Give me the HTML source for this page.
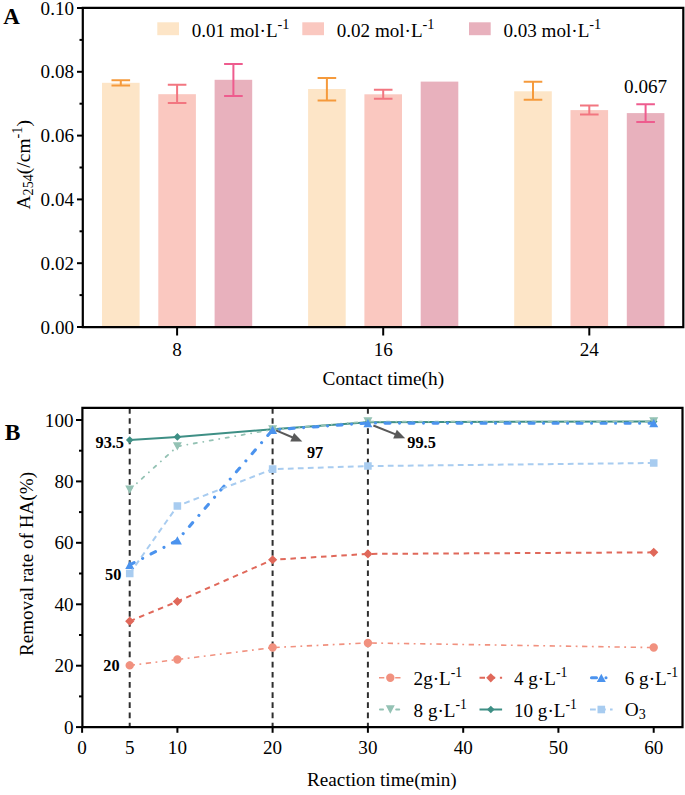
<!DOCTYPE html>
<html><head><meta charset="utf-8"><style>
html,body{margin:0;padding:0;background:#fff;}
svg{display:block;}
</style></head><body>
<svg width="685" height="795" viewBox="0 0 685 795">
<rect width="685" height="795" fill="#fff"/>
<rect x="102.0" y="82.8" width="37.6" height="244.2" fill="#FDE5C7"/>
<rect x="158.3" y="94.2" width="37.6" height="232.8" fill="#FAC8C0"/>
<rect x="214.6" y="79.8" width="37.6" height="247.2" fill="#E8B1BD"/>
<rect x="308.1" y="89.0" width="37.6" height="238.0" fill="#FDE5C7"/>
<rect x="364.4" y="94.3" width="37.6" height="232.7" fill="#FAC8C0"/>
<rect x="420.7" y="81.6" width="37.6" height="245.4" fill="#E8B1BD"/>
<rect x="514.2" y="91.3" width="37.6" height="235.7" fill="#FDE5C7"/>
<rect x="570.5" y="110.1" width="37.6" height="216.9" fill="#FAC8C0"/>
<rect x="626.8" y="113.1" width="37.6" height="213.9" fill="#E8B1BD"/>
<path d="M111.5 80.2H130.1M111.5 85.4H130.1M120.8 80.2V85.4" stroke="#F59A3C" stroke-width="2" fill="none"/>
<path d="M167.8 84.8H186.4M167.8 103.1H186.4M177.1 84.8V103.1" stroke="#F27680" stroke-width="2" fill="none"/>
<path d="M224.1 64H242.7M224.1 95.9H242.7M233.4 64V95.9" stroke="#EE5C8E" stroke-width="2" fill="none"/>
<path d="M317.6 77.9H336.2M317.6 100.5H336.2M326.9 77.9V100.5" stroke="#F59A3C" stroke-width="2" fill="none"/>
<path d="M373.9 89.8H392.5M373.9 98.7H392.5M383.2 89.8V98.7" stroke="#F27680" stroke-width="2" fill="none"/>
<path d="M523.7 81.8H542.3M523.7 99.7H542.3M533.0 81.8V99.7" stroke="#F59A3C" stroke-width="2" fill="none"/>
<path d="M580.0 105.4H598.6M580.0 114.4H598.6M589.3 105.4V114.4" stroke="#F27680" stroke-width="2" fill="none"/>
<path d="M636.3 104.2H654.9M636.3 122H654.9M645.6 104.2V122" stroke="#EE5C8E" stroke-width="2" fill="none"/>
<path d="M82.8 7.9H683.3V327.2H82.8Z" stroke="#000" stroke-width="2.2" fill="none"/>
<path d="M77 8.0H82.8" stroke="#000" stroke-width="2"/>
<path d="M79.5 39.9H82.8" stroke="#000" stroke-width="2"/>
<text x="74" y="14.5" text-anchor="end" font-size="19.1" font-family="Liberation Serif, serif">0.10</text>
<path d="M77 71.8H82.8" stroke="#000" stroke-width="2"/>
<path d="M79.5 103.7H82.8" stroke="#000" stroke-width="2"/>
<text x="74" y="78.3" text-anchor="end" font-size="19.1" font-family="Liberation Serif, serif">0.08</text>
<path d="M77 135.6H82.8" stroke="#000" stroke-width="2"/>
<path d="M79.5 167.5H82.8" stroke="#000" stroke-width="2"/>
<text x="74" y="142.1" text-anchor="end" font-size="19.1" font-family="Liberation Serif, serif">0.06</text>
<path d="M77 199.4H82.8" stroke="#000" stroke-width="2"/>
<path d="M79.5 231.3H82.8" stroke="#000" stroke-width="2"/>
<text x="74" y="205.9" text-anchor="end" font-size="19.1" font-family="Liberation Serif, serif">0.04</text>
<path d="M77 263.2H82.8" stroke="#000" stroke-width="2"/>
<path d="M79.5 295.1H82.8" stroke="#000" stroke-width="2"/>
<text x="74" y="269.7" text-anchor="end" font-size="19.1" font-family="Liberation Serif, serif">0.02</text>
<path d="M77 327.0H82.8" stroke="#000" stroke-width="2"/>
<text x="74" y="333.5" text-anchor="end" font-size="19.1" font-family="Liberation Serif, serif">0.00</text>
<path d="M177.1 327H177.1V335.5" stroke="#000" stroke-width="2"/>
<text x="177.1" y="355.5" text-anchor="middle" font-size="19.1" font-family="Liberation Serif, serif">8</text>
<path d="M383.2 327H383.2V335.5" stroke="#000" stroke-width="2"/>
<text x="383.2" y="355.5" text-anchor="middle" font-size="19.1" font-family="Liberation Serif, serif">16</text>
<path d="M589.3 327H589.3V335.5" stroke="#000" stroke-width="2"/>
<text x="589.3" y="355.5" text-anchor="middle" font-size="19.1" font-family="Liberation Serif, serif">24</text>
<text x="383.3" y="385.2" text-anchor="middle" font-size="19.3" font-family="Liberation Serif, serif">Contact time(h)</text>
<text transform="translate(30.3,164.8) rotate(-90)" text-anchor="middle" font-size="19.5" font-family="Liberation Serif, serif">A<tspan font-size="14.2" dy="3">254</tspan><tspan dy="-3">(/cm</tspan><tspan font-size="14.2" dy="-8.5">-1</tspan><tspan dy="8.5">)</tspan></text>
<text x="3.3" y="24.4" font-size="23" font-weight="bold" font-family="Liberation Serif, serif">A</text>
<rect x="157.3" y="22.3" width="21.7" height="12.9" fill="#FDE5C7"/>
<text x="191.7" y="37.1" font-size="19.1" font-family="Liberation Serif, serif">0.01 mol·L<tspan font-size="14.3" dy="-8.4">-1</tspan></text>
<rect x="302.3" y="22.3" width="21.7" height="12.9" fill="#FAC8C0"/>
<text x="336.7" y="37.1" font-size="19.1" font-family="Liberation Serif, serif">0.02 mol·L<tspan font-size="14.3" dy="-8.4">-1</tspan></text>
<rect x="469" y="22.3" width="21.7" height="12.9" fill="#E8B1BD"/>
<text x="503.4" y="37.1" font-size="19.1" font-family="Liberation Serif, serif">0.03 mol·L<tspan font-size="14.3" dy="-8.4">-1</tspan></text>
<text x="624.1" y="92.8" font-size="19.1" font-family="Liberation Serif, serif">0.067</text>
<path d="M129.7 408V727" stroke="#2e2e2e" stroke-width="2" stroke-dasharray="5.7 4.45" fill="none"/>
<path d="M272.6 408V727" stroke="#2e2e2e" stroke-width="2" stroke-dasharray="5.7 4.45" fill="none"/>
<path d="M367.9 408V727" stroke="#2e2e2e" stroke-width="2" stroke-dasharray="5.7 4.45" fill="none"/>
<polyline points="129.73,665.37 177.37,659.54 272.64,647.56 367.91,642.95 653.72,647.56" fill="none" stroke="#F1917F" stroke-width="1.6" stroke-linecap="butt" stroke-dasharray="5.3 4.5 1.8 4.6"/>
<path d="M125.53 665.37a4.2 4.2 0 1 0 8.4 0a4.2 4.2 0 1 0 -8.4 0ZM173.17 659.54a4.2 4.2 0 1 0 8.4 0a4.2 4.2 0 1 0 -8.4 0ZM268.44 647.56a4.2 4.2 0 1 0 8.4 0a4.2 4.2 0 1 0 -8.4 0ZM363.71 642.95a4.2 4.2 0 1 0 8.4 0a4.2 4.2 0 1 0 -8.4 0ZM649.52 647.56a4.2 4.2 0 1 0 8.4 0a4.2 4.2 0 1 0 -8.4 0Z" fill="#F1917F"/>
<polyline points="129.73,621.15 177.37,601.50 272.64,559.73 367.91,553.90 653.72,552.36" fill="none" stroke="#E0685A" stroke-width="2" stroke-linecap="butt" stroke-dasharray="5.5 4.7"/>
<path d="M129.73 616.55L134.33 621.15L129.73 625.75L125.13 621.15ZM177.37 596.90L181.97 601.50L177.37 606.10L172.77 601.50ZM272.64 555.13L277.24 559.73L272.64 564.33L268.04 559.73ZM367.91 549.30L372.51 553.90L367.91 558.50L363.31 553.90ZM653.72 547.76L658.32 552.36L653.72 556.96L649.12 552.36Z" fill="#E0685A"/>
<polyline points="129.73,439.96 177.37,436.89 272.64,429.21 367.91,422.15 653.72,421.54" fill="none" stroke="#3E8F85" stroke-width="2" stroke-linecap="butt"/>
<path d="M129.73 436.16L133.53 439.96L129.73 443.76L125.93 439.96ZM177.37 433.09L181.17 436.89L177.37 440.69L173.57 436.89ZM272.64 425.41L276.44 429.21L272.64 433.01L268.84 429.21ZM367.91 418.35L371.71 422.15L367.91 425.95L364.11 422.15ZM653.72 417.74L657.52 421.54L653.72 425.34L649.92 421.54Z" fill="#3E8F85"/>
<polyline points="129.73,489.71 177.37,446.41 272.64,429.52 367.91,421.54 653.72,421.54" fill="none" stroke="#94C2B4" stroke-width="1.8" stroke-linecap="round" stroke-dasharray="3.2 6.45 0.1 6.45"/>
<path d="M129.73 493.91L134.23 485.51L125.23 485.51ZM177.37 450.61L181.87 442.21L172.87 442.21ZM272.64 433.72L277.14 425.32L268.14 425.32ZM367.91 425.74L372.41 417.34L363.41 417.34ZM653.72 425.74L658.22 417.34L649.22 417.34Z" fill="#94C2B4"/>
<polyline points="129.73,564.95 177.37,540.38 272.64,429.83 367.91,423.07 653.72,423.22" fill="none" stroke="#4B93EE" stroke-width="3.1" stroke-linecap="round" stroke-dasharray="5 9.5 0.01 9.5"/>
<path d="M129.73 560.85L134.23 569.05L125.23 569.05ZM177.37 536.28L181.87 544.48L172.87 544.48ZM272.64 425.73L277.14 433.93L268.14 433.93ZM367.91 418.97L372.41 427.17L363.41 427.17ZM653.72 419.12L658.22 427.32L649.22 427.32Z" fill="#4B93EE"/>
<polyline points="129.73,573.55 177.37,505.99 272.64,469.14 367.91,466.06 653.72,462.99" fill="none" stroke="#A8CCF0" stroke-width="2" stroke-linecap="butt" stroke-dasharray="5.8 4.2"/>
<path d="M125.93 569.75h7.6v7.6h-7.6ZM173.57 502.19h7.6v7.6h-7.6ZM268.84 465.34h7.6v7.6h-7.6ZM364.11 462.26h7.6v7.6h-7.6ZM649.92 459.19h7.6v7.6h-7.6Z" fill="#A8CCF0"/>
<path d="M82.4 407.8H682.5V727.1H82.4Z" stroke="#000" stroke-width="2.2" fill="none"/>
<path d="M76 727.1H82.4" stroke="#000" stroke-width="2"/>
<text x="73.5" y="733.6" text-anchor="end" font-size="19.1" font-family="Liberation Serif, serif">0</text>
<path d="M79 696.4H82.4" stroke="#000" stroke-width="2"/>
<path d="M76 665.7H82.4" stroke="#000" stroke-width="2"/>
<text x="73.5" y="672.2" text-anchor="end" font-size="19.1" font-family="Liberation Serif, serif">20</text>
<path d="M79 635.0H82.4" stroke="#000" stroke-width="2"/>
<path d="M76 604.3H82.4" stroke="#000" stroke-width="2"/>
<text x="73.5" y="610.8" text-anchor="end" font-size="19.1" font-family="Liberation Serif, serif">40</text>
<path d="M79 573.5H82.4" stroke="#000" stroke-width="2"/>
<path d="M76 542.8H82.4" stroke="#000" stroke-width="2"/>
<text x="73.5" y="549.3" text-anchor="end" font-size="19.1" font-family="Liberation Serif, serif">60</text>
<path d="M79 512.1H82.4" stroke="#000" stroke-width="2"/>
<path d="M76 481.4H82.4" stroke="#000" stroke-width="2"/>
<text x="73.5" y="487.9" text-anchor="end" font-size="19.1" font-family="Liberation Serif, serif">80</text>
<path d="M79 450.7H82.4" stroke="#000" stroke-width="2"/>
<path d="M76 420.0H82.4" stroke="#000" stroke-width="2"/>
<text x="73.5" y="426.5" text-anchor="end" font-size="19.1" font-family="Liberation Serif, serif">100</text>
<path d="M82.1 727H82.1V732.8" stroke="#000" stroke-width="2"/>
<path d="M177.4 727H177.4V732.8" stroke="#000" stroke-width="2"/>
<path d="M272.6 727H272.6V732.8" stroke="#000" stroke-width="2"/>
<path d="M367.9 727H367.9V732.8" stroke="#000" stroke-width="2"/>
<path d="M463.2 727H463.2V732.8" stroke="#000" stroke-width="2"/>
<path d="M558.4 727H558.4V732.8" stroke="#000" stroke-width="2"/>
<path d="M653.7 727H653.7V732.8" stroke="#000" stroke-width="2"/>
<text x="82.1" y="753.5" text-anchor="middle" font-size="19.1" font-family="Liberation Serif, serif">0</text>
<text x="129.7" y="753.5" text-anchor="middle" font-size="19.1" font-family="Liberation Serif, serif">5</text>
<text x="177.4" y="753.5" text-anchor="middle" font-size="19.1" font-family="Liberation Serif, serif">10</text>
<text x="272.6" y="753.5" text-anchor="middle" font-size="19.1" font-family="Liberation Serif, serif">20</text>
<text x="367.9" y="753.5" text-anchor="middle" font-size="19.1" font-family="Liberation Serif, serif">30</text>
<text x="463.2" y="753.5" text-anchor="middle" font-size="19.1" font-family="Liberation Serif, serif">40</text>
<text x="558.4" y="753.5" text-anchor="middle" font-size="19.1" font-family="Liberation Serif, serif">50</text>
<text x="653.7" y="753.5" text-anchor="middle" font-size="19.1" font-family="Liberation Serif, serif">60</text>
<text x="381.9" y="785.5" text-anchor="middle" font-size="19.2" font-family="Liberation Serif, serif">Reaction time(min)</text>
<text transform="translate(33.2,564) rotate(-90)" text-anchor="middle" font-size="19.1" font-family="Liberation Serif, serif">Removal rate of HA(%)</text>
<text x="4.8" y="439.6" font-size="23.5" font-weight="bold" font-family="Liberation Serif, serif">B</text>
<text x="124" y="447.5" text-anchor="end" font-size="16.3" font-weight="bold" font-family="Liberation Serif, serif">93.5</text>
<text x="121.4" y="579.5" text-anchor="end" font-size="16.3" font-weight="bold" font-family="Liberation Serif, serif">50</text>
<text x="119.6" y="671" text-anchor="end" font-size="16.3" font-weight="bold" font-family="Liberation Serif, serif">20</text>
<text x="306.9" y="457.6" font-size="16.3" font-weight="bold" font-family="Liberation Serif, serif">97</text>
<text x="407.3" y="447.6" font-size="16.3" font-weight="bold" font-family="Liberation Serif, serif">99.5</text>
<path d="M276.0 430.3L294.0 438.0" stroke="#595959" stroke-width="2" fill="none"/><path d="M302.3 441.6L290.3 441.6L294.1 432.9Z" fill="#595959"/>
<path d="M373.4 425.5L396.9 434.9" stroke="#595959" stroke-width="2" fill="none"/><path d="M405.2 438.3L393.2 438.6L396.8 429.8Z" fill="#595959"/>
<path d="M379.0 677.8H401.6" fill="none" stroke="#F1917F" stroke-width="1.6" stroke-linecap="butt" stroke-dasharray="5.3 4.5 1.8 4.6"/>
<path d="M386.10 677.80a4.2 4.2 0 1 0 8.4 0a4.2 4.2 0 1 0 -8.4 0Z" fill="#F1917F"/>
<text x="413.6" y="685.2" font-size="19.1" font-family="Liberation Serif, serif">2g·L<tspan font-size="13.8" dy="-8">-1</tspan></text>
<path d="M479.5 677.8H502.1" fill="none" stroke="#E0685A" stroke-width="2" stroke-linecap="butt" stroke-dasharray="5.5 4.7"/>
<path d="M490.80 673.20L495.40 677.80L490.80 682.40L486.20 677.80Z" fill="#E0685A"/>
<text x="514" y="685.2" font-size="19.1" font-family="Liberation Serif, serif">4 g·L<tspan font-size="13.8" dy="-8">-1</tspan></text>
<path d="M591.5 677.8H612.6" fill="none" stroke="#4B93EE" stroke-width="3.1" stroke-linecap="round" stroke-dasharray="5 9.5 0.01 9.5"/>
<path d="M601.30 673.70L605.80 681.90L596.80 681.90Z" fill="#4B93EE"/>
<text x="624.8" y="685.2" font-size="19.1" font-family="Liberation Serif, serif">6 g·L<tspan font-size="13.8" dy="-8">-1</tspan></text>
<path d="M379.9 709.5H401.6" fill="none" stroke="#94C2B4" stroke-width="1.8" stroke-linecap="round" stroke-dasharray="3.2 6.45 0.1 6.45"/>
<path d="M390.30 713.70L394.80 705.30L385.80 705.30Z" fill="#94C2B4"/>
<text x="413.6" y="716.8" font-size="19.1" font-family="Liberation Serif, serif">8 g·L<tspan font-size="13.8" dy="-8">-1</tspan></text>
<path d="M479.5 709.5H502.1" fill="none" stroke="#3E8F85" stroke-width="2" stroke-linecap="butt"/>
<path d="M490.80 705.70L494.60 709.50L490.80 713.30L487.00 709.50Z" fill="#3E8F85"/>
<text x="514" y="716.8" font-size="19.1" font-family="Liberation Serif, serif">10 g·L<tspan font-size="13.8" dy="-8">-1</tspan></text>
<path d="M590.0 709.5H612.6" fill="none" stroke="#A8CCF0" stroke-width="2" stroke-linecap="butt" stroke-dasharray="5.8 4.2"/>
<path d="M597.50 705.70h7.6v7.6h-7.6Z" fill="#A8CCF0"/>
<text x="624.8" y="716.1999999999999" font-size="19.3" font-family="Liberation Serif, serif">O<tspan font-size="14" dy="3.2">3</tspan></text>
</svg>
</body></html>
